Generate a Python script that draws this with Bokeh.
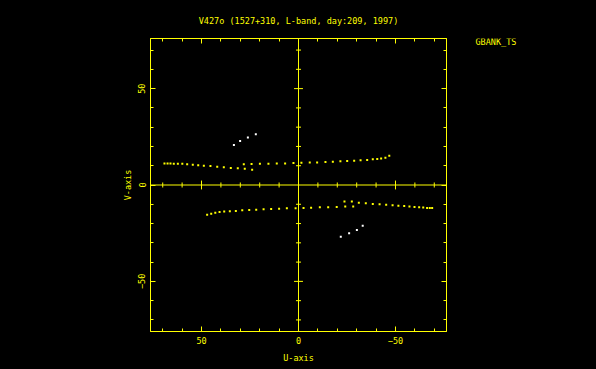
from bokeh.plotting import figure
from bokeh.layouts import row
from bokeh.models import Range1d, FixedTicker, LinearAxis, Span, Label
from bokeh.embed import file_html
from bokeh.resources import INLINE

# ---- data ----
# yellow baseline, upper half, track 1
u1_up = [69.1, 67.5, 66.0, 64.3, 62.2, 59.9, 57.4, 54.5, 51.7, 48.8, 45.4, 41.9, 38.5, 34.9, 31.3, 27.7, 23.9]
v1_up = [11.2, 11.2, 11.2, 11.0, 11.0, 11.0, 10.7, 10.5, 10.2, 10.0, 9.8, 9.5, 9.2, 8.8, 8.7, 8.4, 7.9]
# yellow baseline, upper half, track 2
u2_up = [28.2, 24.2, 19.9, 15.5, 11.2, 6.9, 2.6, -1.5, -5.8, -9.6, -13.9, -17.7, -21.6, -25.1, -28.7,
         -32.0, -35.4, -38.3, -40.6, -42.6, -44.8, -46.8]
v2_up = [10.7, 10.9, 11.0, 11.0, 11.2, 11.2, 11.4, 11.6, 11.7, 11.7, 11.9, 12.1, 12.3, 12.4, 12.6,
         12.8, 13.0, 13.3, 13.5, 13.8, 14.1, 15.2]
# yellow baseline, lower half (conjugate tracks as read)
u2_lo = [47.1, 45.0, 42.9, 40.7, 38.3, 35.4, 32.3, 29.0, 25.4, 21.8, 18.0, 14.1, 10.0, 6.0, 1.5,
         -2.6, -6.5, -11.0, -15.3, -19.7, -24.1, -28.2]
v2_lo = [-15.4, -14.9, -14.4, -14.0, -13.8, -13.6, -13.5, -13.1, -13.0, -12.8, -12.6, -12.4, -12.3, -12.1, -12.1,
         -11.9, -11.8, -11.6, -11.6, -11.4, -11.2, -11.2]
u1_lo = [-23.7, -27.5, -31.1, -34.7, -38.3, -41.8, -45.2, -48.5, -51.5, -54.5, -57.2, -59.8, -62.2, -64.3,
         -66.3, -67.7, -68.9]
v1_lo = [-8.5, -8.6, -9.2, -9.5, -9.8, -10.0, -10.2, -10.5, -10.7, -10.9, -11.2, -11.4, -11.6, -11.7,
         -11.9, -11.9, -11.9]
# white baseline
uw = [33.3, 30.1, 26.1, 22.0, -21.8, -26.1, -30.1, -33.1]
vw = [20.7, 22.8, 24.7, 26.3, -26.9, -25.0, -23.3, -21.1]

major_ticks = [-50, 0, 50]
minor_ticks = [-70, -60, -40, -30, -20, -10, 10, 20, 30, 40, 60, 70]

title_text = "V427o (1527+310, L-band, day:209, 1997)"
side_text = "GBANK_TS"
xlabel = "U-axis"
ylabel = "V-axis"

YEL = "#ffff00"
FONT = "DejaVu Sans Mono"
FS = "8.5px"

p = figure(width=470, height=369, output_backend="svg", toolbar_location=None,
           x_range=Range1d(76.3, -76.3), y_range=Range1d(-76, 76),
           background_fill_color="black", border_fill_color="black",
           min_border_left=150, min_border_right=24, min_border_top=38, min_border_bottom=38,
           x_axis_location=None, y_axis_location=None)
p.outline_line_color = YEL
p.outline_line_width = 1
p.grid.visible = False

p.title.text = title_text
p.title.align = "center"
p.title.text_color = YEL
p.title.text_font = FONT
p.title.text_font_size = FS
p.title.text_font_style = "normal"
p.title.standoff = 26

ticker = FixedTicker(ticks=major_ticks, minor_ticks=minor_ticks)


def style(ax, labels=True):
    ax.ticker = ticker
    ax.axis_line_color = YEL
    ax.major_tick_line_color = YEL
    ax.minor_tick_line_color = YEL
    ax.major_tick_in = 5
    ax.major_tick_out = 0
    ax.minor_tick_in = 3
    ax.minor_tick_out = 0
    ax.major_label_text_color = YEL
    ax.major_label_text_font = FONT
    ax.major_label_text_font_size = FS
    ax.axis_label_text_color = YEL
    ax.axis_label_text_font = FONT
    ax.axis_label_text_font_size = FS
    ax.axis_label_text_font_style = "normal"
    if not labels:
        ax.major_label_overrides = {t: "" for t in major_ticks}
        ax.major_label_standoff = 0


xb = LinearAxis(axis_label=xlabel)
style(xb)
xb.major_label_standoff = 5
xb.axis_label_standoff = 6
p.add_layout(xb, "below")

yl = LinearAxis(axis_label=ylabel)
style(yl)
yl.major_label_orientation = "vertical"
yl.major_label_standoff = 5
yl.axis_label_standoff = 3
p.add_layout(yl, "left")

xt = LinearAxis()
style(xt, labels=False)
p.add_layout(xt, "above")

yr = LinearAxis()
style(yr, labels=False)
p.add_layout(yr, "right")

# central cross lines
p.add_layout(Span(location=0, dimension="width", line_color=YEL, line_width=1))
p.add_layout(Span(location=0, dimension="height", line_color=YEL, line_width=1))

# ticks on the central lines (half-lengths in data units)
maj_h = 2.3
min_h = 1.3
xt_all = [t for t in major_ticks if t != 0] + minor_ticks
xt_len = [maj_h if t in major_ticks else min_h for t in xt_all]
p.segment(x0=xt_all, y0=[-l for l in xt_len], x1=xt_all, y1=xt_len, line_color=YEL, line_width=1)
p.segment(x0=[-l for l in xt_len], y0=xt_all, x1=xt_len, y1=xt_all, line_color=YEL, line_width=1)

# data points
for u, v in [(u1_up, v1_up), (u2_up, v2_up), (u2_lo, v2_lo), (u1_lo, v1_lo)]:
    p.scatter(u, v, marker="square", size=2, fill_color=YEL, line_color=None)
p.scatter(uw, vw, marker="square", size=2, fill_color="white", line_color=None)

# side panel holding the "GBANK_TS" tag (its frame lines up with the main frame)
side = figure(width=126, height=369, output_backend="svg", toolbar_location=None,
              x_range=Range1d(0, 126), y_range=Range1d(-76, 76),
              background_fill_color="black", border_fill_color="black",
              outline_line_color=None,
              min_border=0, x_axis_location=None, y_axis_location=None)
side.grid.visible = False
side.add_layout(Label(x=5, y=74.2, text=side_text, text_color=YEL, text_font=FONT,
                      text_font_size=FS, text_align="left", text_baseline="middle"))

layout = row(p, side, spacing=0)

html = file_html(layout, INLINE)
html = html.replace("</head>", "<style>html, body { background-color: #000000 !important; }</style>\n</head>", 1)
open("out.html", "w").write(html)
